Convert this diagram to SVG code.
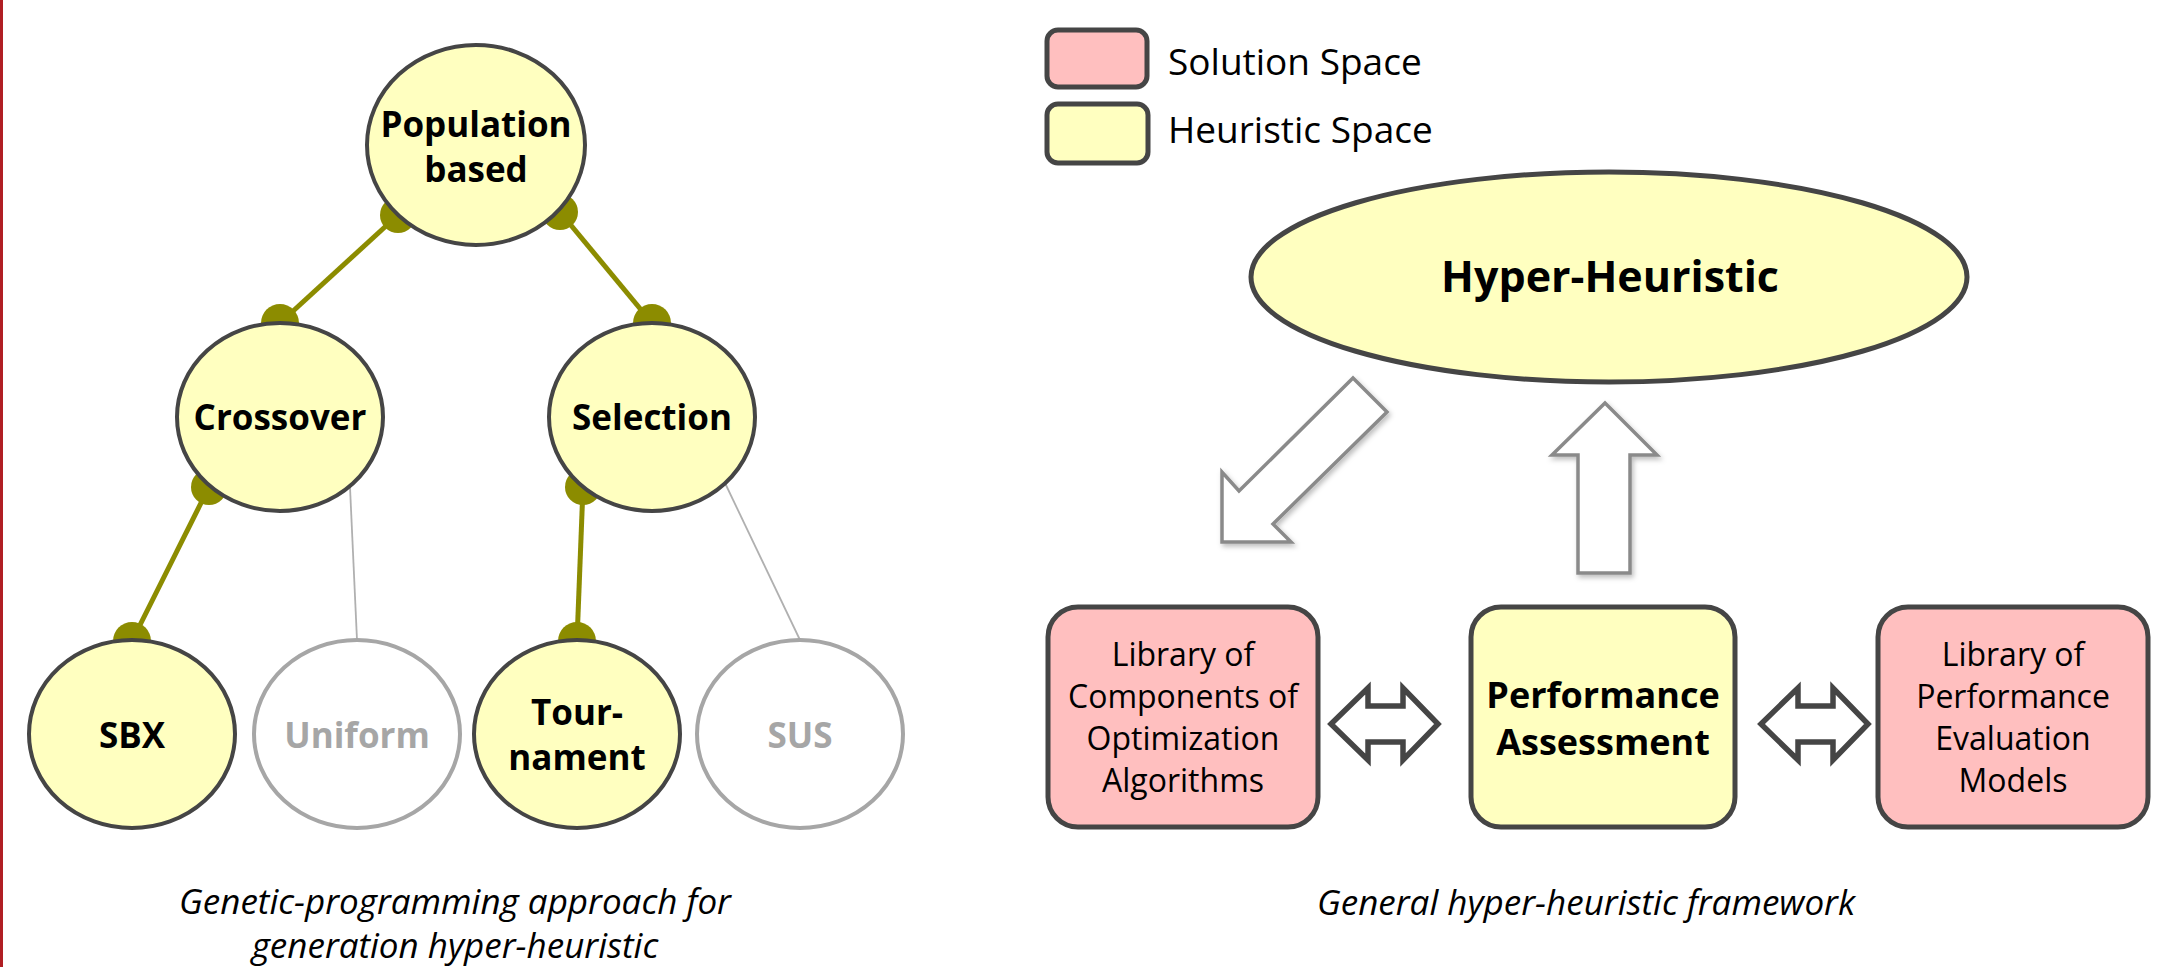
<svg xmlns="http://www.w3.org/2000/svg" width="2158" height="967" viewBox="0 0 2158 967">
  <style>
    .heur { fill: #ffffc0; stroke: #454545; stroke-width: 4; }
    .sol { fill: #ffbfbf; stroke: #454545; stroke-width: 5; }
    .off { fill: #ffffff; stroke: #a6a6a6; stroke-width: 4; }
    .lbl { font-family: "Open Sans", "Noto Sans", sans-serif; font-weight: 700; font-size: 35px; text-anchor: middle; fill: #000; }
    .lbl-off { fill: #a6a6a6; }
    .big { font-size: 43px; }
    .box { font-family: "Open Sans", "Noto Sans", sans-serif; font-size: 32px; text-anchor: middle; fill: #000; }
    .boxb { font-family: "Open Sans", "Noto Sans", sans-serif; font-weight: 700; font-size: 36px; text-anchor: middle; fill: #000; }
    .leg { font-family: "Open Sans", "Noto Sans", sans-serif; font-size: 37px; fill: #000; }
    .cap { font-family: "Open Sans", "Noto Sans", sans-serif; font-style: italic; font-size: 35px; text-anchor: middle; fill: #000; }
    .olive { stroke: #8c8c00; stroke-width: 5; fill: none; }
    .dot { fill: #8c8c00; }
    .thin { stroke: #b0b0b0; stroke-width: 1.8; fill: none; }
    .block { fill: #ffffff; stroke: #8a8a8a; stroke-width: 3.5; stroke-linejoin: miter; filter: url(#shadow); }
    .dbl { fill: #ffffff; stroke: #454545; stroke-width: 5.5; stroke-linejoin: miter; }
  </style>
  <defs>
    <filter id="shadow" x="-20%" y="-20%" width="140%" height="140%">
      <feDropShadow dx="2" dy="3" stdDeviation="2.5" flood-color="#000" flood-opacity="0.25"/>
    </filter>
  </defs>

  <rect width="2158" height="967" fill="#ffffff"/>
  <!-- left page border -->
  <rect x="0" y="0" width="3" height="967" fill="#b01e23"/>

  <!-- tree edges and framework arrows -->
  <g id="connectors">
    <line class="olive" x1="398" y1="215" x2="280" y2="323"/>
    <line class="olive" x1="560" y1="212" x2="652" y2="323"/>
    <line class="olive" x1="209" y1="487" x2="132" y2="641"/>
    <line class="olive" x1="583" y1="487" x2="577" y2="641"/>
    <circle class="dot" cx="398" cy="215" r="18"/>
    <circle class="dot" cx="280" cy="323" r="19"/>
    <circle class="dot" cx="560" cy="212" r="18"/>
    <circle class="dot" cx="652" cy="323" r="19"/>
    <circle class="dot" cx="209" cy="487" r="18"/>
    <circle class="dot" cx="132" cy="641" r="19"/>
    <circle class="dot" cx="583" cy="487" r="18"/>
    <circle class="dot" cx="577" cy="641" r="19"/>
    <line class="thin" x1="350" y1="487" x2="357" y2="640"/>
    <line class="thin" x1="725" y1="483" x2="800" y2="640"/>

    <polygon id="arrow-down" class="block" points="1353,378 1387,412 1273,524 1291,542 1222,542 1222,472 1239,491"/>
    <polygon id="arrow-up" class="block" points="1605,403 1657,455 1630,455 1630,573 1578,573 1578,455 1552,455"/>

    <polygon id="link-left" class="dbl" points="1331,724 1368,688 1368,706 1403,706 1403,688 1438,724 1403,760 1403,742 1368,742 1368,760"/>
    <polygon id="link-right" class="dbl" points="1761,724 1798,688 1798,706 1833,706 1833,688 1868,724 1833,760 1833,742 1798,742 1798,760"/>
  </g>

  <!-- genetic-programming tree -->
  <g id="node-population">
    <ellipse class="heur" cx="476" cy="145" rx="109" ry="100"/>
    <text class="lbl" x="476" y="137">Population</text>
    <text class="lbl" x="476" y="182">based</text>
  </g>
  <g id="node-crossover">
    <ellipse class="heur" cx="280" cy="417" rx="103" ry="94"/>
    <text class="lbl" x="280" y="430">Crossover</text>
  </g>
  <g id="node-selection">
    <ellipse class="heur" cx="652" cy="417" rx="103" ry="94"/>
    <text class="lbl" x="652" y="430">Selection</text>
  </g>
  <g id="node-sbx">
    <ellipse class="heur" cx="132" cy="734" rx="103" ry="94"/>
    <text class="lbl" x="132" y="748">SBX</text>
  </g>
  <g id="node-uniform">
    <ellipse class="off" cx="357" cy="734" rx="103" ry="94"/>
    <text class="lbl lbl-off" x="357" y="748">Uniform</text>
  </g>
  <g id="node-tournament">
    <ellipse class="heur" cx="577" cy="734" rx="103" ry="94"/>
    <text class="lbl" x="577" y="725">Tour-</text>
    <text class="lbl" x="577" y="770">nament</text>
  </g>
  <g id="node-sus">
    <ellipse class="off" cx="800" cy="734" rx="103" ry="94"/>
    <text class="lbl lbl-off" x="800" y="748">SUS</text>
  </g>

  <g id="caption-left">
    <text class="cap" x="455" y="914">Genetic-programming approach for</text>
    <text class="cap" x="455" y="958">generation hyper-heuristic</text>
  </g>

  <!-- legend -->
  <g id="legend">
    <rect class="sol" x="1047" y="30" width="100" height="57" rx="11"/>
    <text class="leg" x="1168" y="75">Solution Space</text>
    <rect class="heur" style="stroke-width:5" x="1047" y="104" width="101" height="59" rx="11"/>
    <text class="leg" x="1168" y="143">Heuristic Space</text>
  </g>

  <!-- hyper-heuristic framework -->
  <g id="node-hyper-heuristic">
    <ellipse class="heur" style="stroke-width:5" cx="1609" cy="277" rx="358" ry="105"/>
    <text class="lbl big" x="1610" y="292">Hyper-Heuristic</text>
  </g>
  <g id="node-library-components">
    <rect class="sol" x="1048" y="607" width="270" height="220" rx="30"/>
    <text class="box" x="1183" y="666">Library of</text>
    <text class="box" x="1183" y="708">Components of</text>
    <text class="box" x="1183" y="750">Optimization</text>
    <text class="box" x="1183" y="792">Algorithms</text>
  </g>
  <g id="node-performance-assessment">
    <rect class="heur" style="stroke-width:5" x="1471" y="607" width="264" height="220" rx="30"/>
    <text class="boxb" x="1603" y="708">Performance</text>
    <text class="boxb" x="1603" y="755">Assessment</text>
  </g>
  <g id="node-library-evaluation">
    <rect class="sol" x="1878" y="607" width="270" height="220" rx="30"/>
    <text class="box" x="2013" y="666">Library of</text>
    <text class="box" x="2013" y="708">Performance</text>
    <text class="box" x="2013" y="750">Evaluation</text>
    <text class="box" x="2013" y="792">Models</text>
  </g>

  <g id="caption-right">
    <text class="cap" x="1586" y="915">General hyper-heuristic framework</text>
  </g>
</svg>
